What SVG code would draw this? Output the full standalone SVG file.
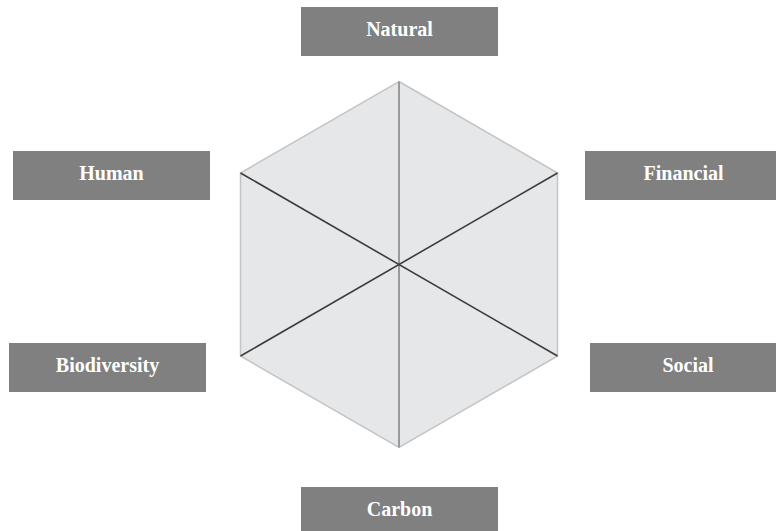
<svg xmlns="http://www.w3.org/2000/svg" width="776" height="531" viewBox="0 0 776 531">
<style>
.box{fill:#808080;}
.lbl{fill:#ffffff;font-family:"Liberation Serif","Times New Roman",serif;font-weight:bold;font-size:20px;text-anchor:middle;}
.hex{fill:#e6e7e9;stroke:#c4c4c4;stroke-width:1.5;}
.spoke{stroke:#3c3c3c;stroke-width:1.6;fill:none;}
.vspoke{stroke:#9a9a9a;stroke-width:2;fill:none;}
</style>
<rect width="776" height="531" fill="#ffffff"/>
<g id="hexagon">
<polygon class="hex" points="399,81.5 557.5,173 557.5,356 399,447.5 240.5,356 240.5,173"/>
</g>
<g id="connectors">
<line class="vspoke" x1="399" y1="81.5" x2="399" y2="447.5"/>
<line class="spoke" x1="240.5" y1="173" x2="557.5" y2="356"/>
<line class="spoke" x1="557.5" y1="173" x2="240.5" y2="356"/>
</g>
<g id="natural"><rect class="box" x="301" y="7" width="197" height="49"/><text class="lbl" x="399.5" y="35.5">Natural</text></g>
<g id="human"><rect class="box" x="13" y="151" width="197" height="49"/><text class="lbl" x="111.5" y="179.5">Human</text></g>
<g id="financial"><rect class="box" x="585" y="151" width="197" height="49"/><text class="lbl" x="683.5" y="179.5">Financial</text></g>
<g id="biodiversity"><rect class="box" x="9" y="343" width="197" height="49"/><text class="lbl" x="107.5" y="371.5">Biodiversity</text></g>
<g id="social"><rect class="box" x="590" y="343" width="197" height="49"/><text class="lbl" x="688" y="371.5">Social</text></g>
<g id="carbon"><rect class="box" x="301" y="487" width="197" height="49"/><text class="lbl" x="399.5" y="515.5">Carbon</text></g>
</svg>
